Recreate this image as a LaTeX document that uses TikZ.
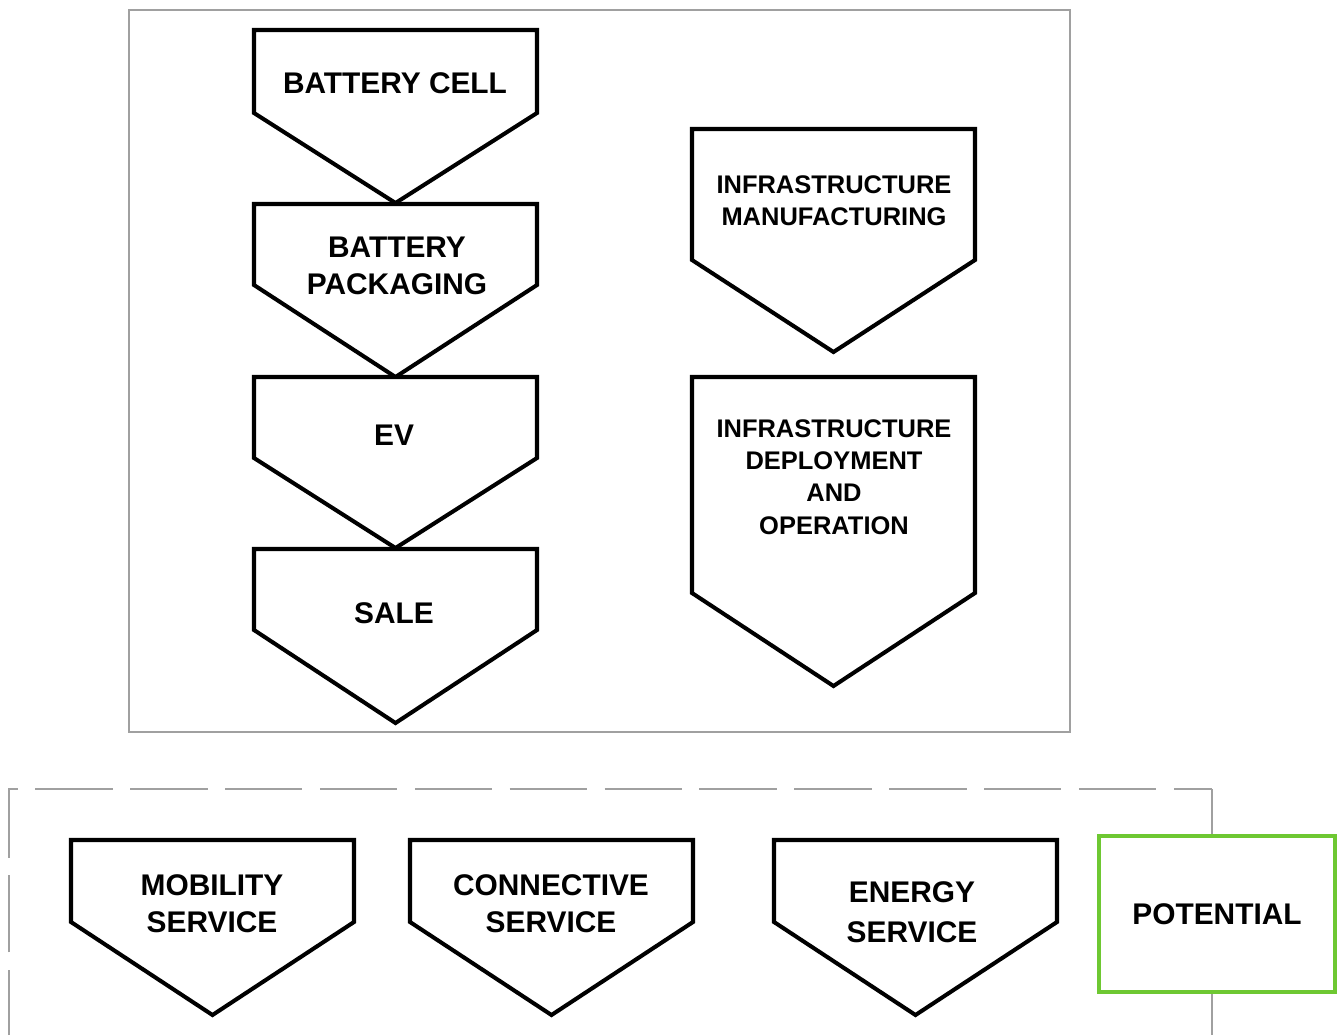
\documentclass[tikz,border=0pt]{standalone}
\usepackage{fontspec}
\setmainfont{Liberation Sans}
\usepackage{xcolor}
\usetikzlibrary{positioning}
\definecolor{framegray}{RGB}{160,160,160}
\definecolor{potgreen}{RGB}{110,200,50}

\begin{document}
\begin{tikzpicture}[
  x=0.02cm, y=-0.02cm,
  chev/.style={draw=black, line width=2.3pt, line join=miter, fill=white},
  frame/.style={draw=framegray, line width=1.1pt},
  lbl/.style={font=\bfseries\fontsize{17}{21}\selectfont, align=center, inner sep=0pt},
  small/.style={lbl, font=\bfseries\fontsize{14.5}{18.4}\selectfont},
  potbox/.style={lbl, draw=potgreen, line width=2.4pt, fill=white,
                 minimum width=4.72cm, minimum height=3.12cm},
]
\useasboundingbox (0,0) rectangle (1342,1035);
\def\w{283}
% value chain frame
\draw[frame] (129,10) rectangle (1070,732);
% service frame, open at the bottom
\draw[frame, dash pattern=on 44pt off 10pt, dash phase=7pt] (9,1035) |- (1212,789);
\draw[frame] (1212,789) -- (1212,1035);
% chevrons: left x / top / side end / tip
\foreach \l/\t/\s/\p in {254/30/113/203, 254/204/285/377, 254/377/458/548,
    254/549/630/723, 692/129/260/352, 692/377/593/686,
    71/840/922/1015, 410/840/922/1015, 774/840/922/1015}
  \draw[chev] (\l,\t) -- ++(\w,0) -- (\l+\w,\s) -- (\l+\w/2,\p) -- (\l,\s) -- cycle;
\node[lbl] (cell) at (395,83)    {BATTERY CELL};
\node[lbl] (pack) at (397,266)   {BATTERY\\PACKAGING};
\node[lbl] (ev)   at (394,435)   {EV};
\node[lbl] (sale) at (394,613)   {SALE};
\node[small] (mfg)    at (834,201) {INFRASTRUCTURE\\MANUFACTURING};
\node[small] (deploy) at (834,477) {INFRASTRUCTURE\\DEPLOYMENT\\AND\\OPERATION};
\node[lbl] (mobility)   at (212,904) {MOBILITY\\SERVICE};
\node[lbl] (connective) at (551,904) {CONNECTIVE\\SERVICE};
\node[lbl, font=\bfseries\fontsize{17}{22.5}\selectfont] (energy) at (912,912) {ENERGY\\SERVICE};
\node[potbox] (potential) at (1217,914) {POTENTIAL};
\end{tikzpicture}
\end{document}
